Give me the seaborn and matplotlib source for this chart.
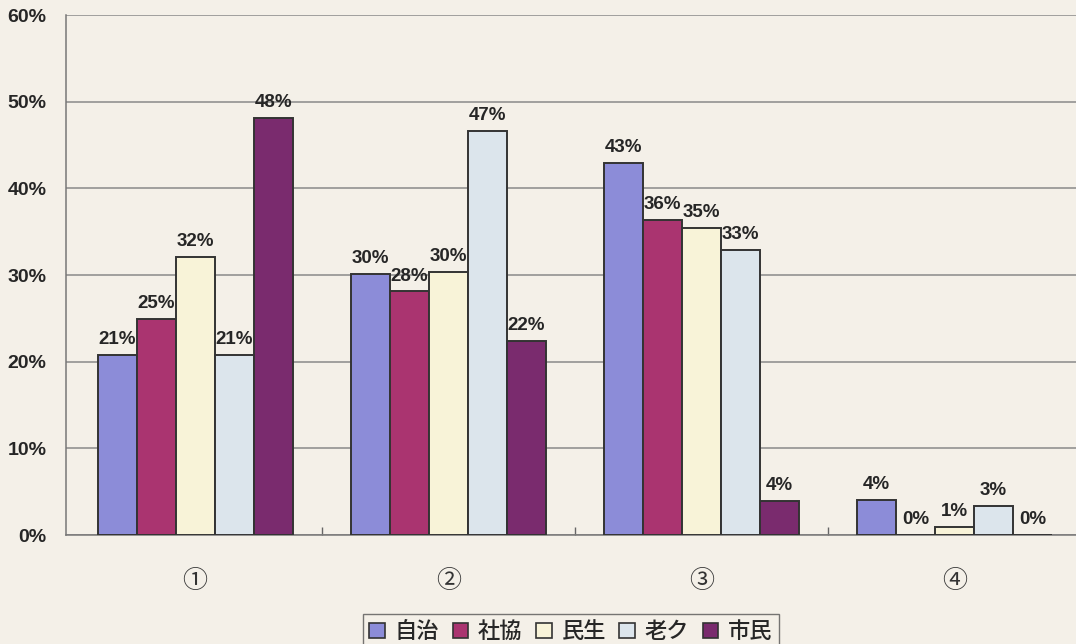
import matplotlib
matplotlib.use("Agg")
import matplotlib.pyplot as plt
import seaborn as sns
import pandas as pd
from matplotlib.ticker import FixedLocator

# ---- data ----
categories = ["①", "②", "③", "④"]
series_names = ["自治", "社協", "民生", "老ク", "市民"]
jichi = [20.8, 30.1, 42.9, 4.0]
shakyo = [24.9, 28.1, 36.4, 0.0]
minsei = [32.1, 30.4, 35.4, 0.9]
roku = [20.8, 46.6, 32.9, 3.4]
shimin = [48.1, 22.4, 3.9, 0.0]
y_ticks = [0, 10, 20, 30, 40, 50, 60]
y_tick_labels = ["0%", "10%", "20%", "30%", "40%", "50%", "60%"]

colors = ["#8C8CD8", "#AA3470", "#F8F3D8", "#DCE5EC", "#7A2B6E"]
bg = "#F4F0E8"

rows = []
for name, vals in zip(series_names, [jichi, shakyo, minsei, roku, shimin]):
    for c, v in zip(categories, vals):
        rows.append({"cat": c, "series": name, "value": v})
df = pd.DataFrame(rows)

sns.set_theme(style="white")
plt.rcParams["font.family"] = ["Liberation Sans", "Noto Sans CJK JP", "DejaVu Sans"]

fig = plt.figure(figsize=(10.76, 6.44), dpi=100, facecolor=bg)
ax = fig.add_axes([66 / 1076, (644 - 535) / 644, 1 - 66 / 1076, 520 / 644])
ax.set_facecolor(bg)

sns.barplot(data=df, x="cat", y="value", hue="series", order=categories,
            hue_order=series_names, palette=colors, width=0.77,
            edgecolor="#333333", linewidth=1.4, saturation=1, ax=ax,
            legend=True, zorder=3)

for cont in ax.containers:
    labels = [f"{b.get_height():.0f}%" for b in cont]
    ax.bar_label(cont, labels=labels, padding=5, fontsize=13.5,
                 color="#262626", fontweight="bold")

ax.set_ylim(0, 60)
ax.set_xlim(-0.51, 3.48)
ax.set_yticks(y_ticks)
ax.set_yticklabels(y_tick_labels, fontsize=14, fontweight="bold", color="#262626")
ax.yaxis.grid(True, color="#8a8a8a", linewidth=1.1, zorder=0)
ax.set_axisbelow(True)
ax.tick_params(axis="y", length=0, pad=14)
ax.set_xticks(range(len(categories)))
ax.set_xticklabels(categories, fontsize=18, color="#333333",
                   family=["Noto Sans CJK JP", "DejaVu Sans"])
ax.tick_params(axis="x", length=0, pad=24)
ax.xaxis.set_minor_locator(FixedLocator([0.5, 1.5, 2.5]))
ax.tick_params(axis="x", which="minor", direction="in", length=6,
               color="#666666", width=1, bottom=True)
ax.set_xlabel("")
ax.set_ylabel("")

for s in ["top", "right"]:
    ax.spines[s].set_visible(False)
ax.spines["left"].set_color("#777777")
ax.spines["bottom"].set_color("#777777")
ax.spines["left"].set_linewidth(1.1)
ax.spines["bottom"].set_linewidth(1.1)

leg = ax.legend(loc="upper center", bbox_to_anchor=(0.5, -0.13), ncol=5,
                frameon=True, fancybox=False, edgecolor="#555555",
                facecolor=bg, handlelength=0.7, handleheight=0.7,
                handletextpad=0.45, columnspacing=0.6, borderpad=0.3,
                prop={"family": ["Noto Sans CJK JP", "DejaVu Sans"], "size": 16,
                      "weight": "medium"})
for h in leg.legend_handles:
    h.set_edgecolor("#333333")
    h.set_linewidth(1.2)

fig.savefig("out.png", dpi=100, facecolor=bg)
